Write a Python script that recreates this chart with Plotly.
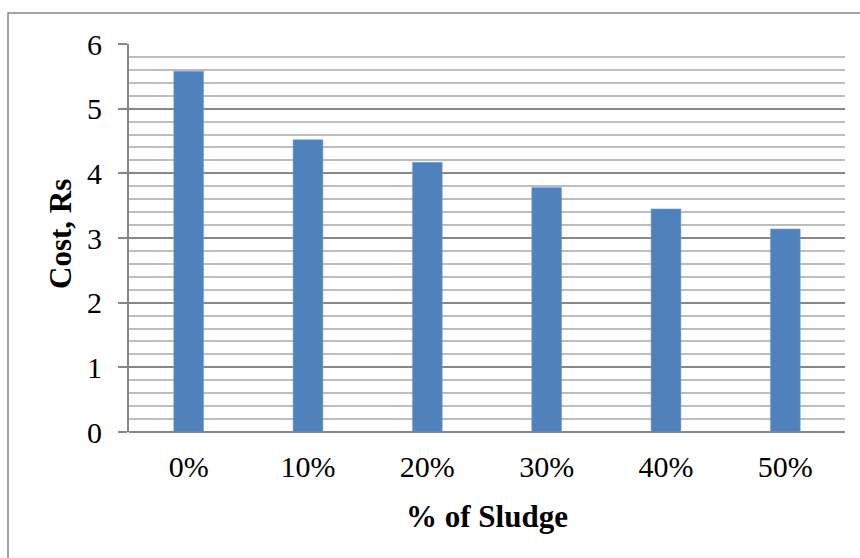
import plotly.graph_objects as go

categories = ["0%", "10%", "20%", "30%", "40%", "50%"]
cost = [5.58, 4.52, 4.17, 3.78, 3.45, 3.14]
y_ticks = [0, 1, 2, 3, 4, 5, 6]

W, H = 860, 558
L, R, T, B = 129, 15, 44, 126
pw, ph = W - L - R, H - T - B

def px_x(x):
    return (x - L) / pw

def px_y(y):
    return (H - B - y) / ph

fig = go.Figure(go.Bar(
    x=categories, y=cost,
    marker=dict(color="#4f81bd", line=dict(color="#7aa0d0", width=0.5)),
    width=0.25,
))

font = "Liberation Serif, Times New Roman, serif"

fig.update_layout(
    width=W, height=H,
    margin=dict(l=L, r=R, t=T, b=B),
    paper_bgcolor="white", plot_bgcolor="white",
    showlegend=False,
    font=dict(family=font, size=30, color="black"),
    xaxis=dict(
        type="category", range=[-0.5, 5.5],
        showgrid=False, showline=False, ticks="",
        tickfont=dict(size=30), ticklabelstandoff=14,
    ),
    yaxis=dict(
        range=[0, 6], tickvals=y_ticks,
        showgrid=True, gridcolor="#878787", gridwidth=2,
        minor=dict(dtick=0.2, showgrid=True, gridcolor="#bdbdbd", gridwidth=2),
        showline=True, linecolor="#878787", linewidth=2,
        ticks="outside", ticklen=9, tickcolor="#878787", tickwidth=2,
        tickfont=dict(size=30), ticklabelstandoff=10,
        zeroline=True, zerolinecolor="#878787", zerolinewidth=2,
    ),
    annotations=[
        dict(text="<b>% of Sludge</b>", xref="paper", yref="paper",
             x=px_x(487), y=px_y(516), showarrow=False,
             xanchor="center", yanchor="middle", font=dict(size=31)),
        dict(text="<b>Cost, Rs</b>", xref="paper", yref="paper",
             x=px_x(60), y=px_y(234), showarrow=False, textangle=-90,
             xanchor="center", yanchor="middle", font=dict(size=31)),
    ],
    shapes=[
        dict(type="rect", xref="paper", yref="paper",
             x0=px_x(8), y0=px_y(700), x1=px_x(1000), y1=px_y(13),
             line=dict(color="#878787", width=1.5), layer="below"),
    ],
)

fig.write_html("out.html")
